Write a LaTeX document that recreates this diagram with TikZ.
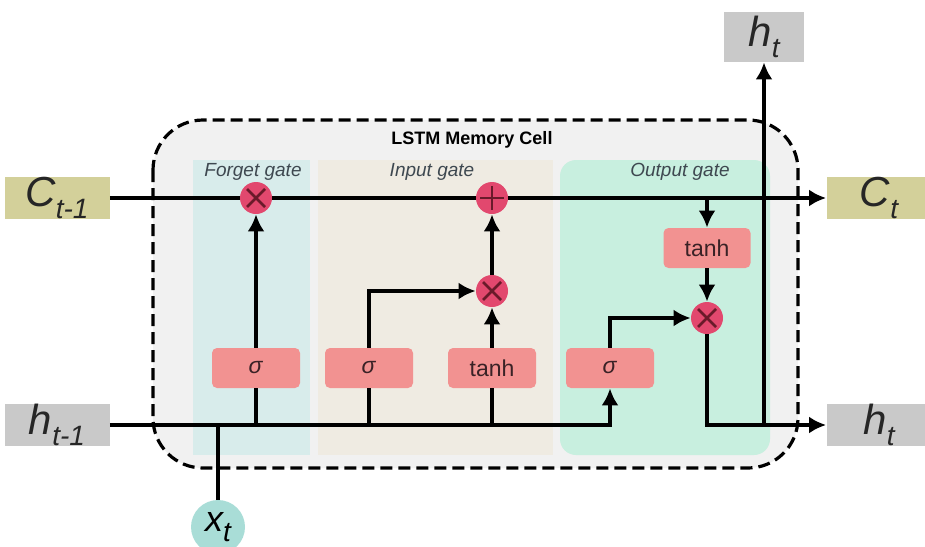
\documentclass[tikz,border=0pt]{standalone}
\usepackage{fontspec}
\setmainfont{Liberation Sans}
\usetikzlibrary{positioning,arrows.meta}
\definecolor{cellgray}{HTML}{F1F1F1}
\definecolor{forgetbg}{HTML}{D8ECEB}
\definecolor{inputbg}{HTML}{EFEBE2}
\definecolor{outputbg}{HTML}{C8EFDF}
\definecolor{actred}{HTML}{F29291}
\definecolor{oppink}{HTML}{E2486E}
\definecolor{crossdark}{HTML}{6A1A2A}
\definecolor{acttext}{HTML}{3A2226}
\definecolor{cstate}{HTML}{D3D09A}
\definecolor{hstate}{HTML}{C9C9C9}
\definecolor{xinput}{HTML}{A9DDD7}
\definecolor{gatetext}{HTML}{3E4850}
\newcommand{\statelbl}[2]{\textit{#1\raisebox{-0.5ex}{\fontsize{14}{14}\selectfont #2}}}
\tikzset{>={Latex[length=8.5pt,width=8.5pt]}}
\tikzset{
  wire/.style={line width=2.4pt},
  flow/.style={wire,->},
  actbox/.style={rectangle,rounded corners=2.5pt,fill=actred,minimum width=44pt,
    minimum height=20pt,inner sep=0pt,text=acttext,font=\fontsize{11.5}{11.5}\selectfont},
  opcirc/.style={circle,fill=oppink,minimum size=16pt,inner sep=0pt},
  mult/.style={opcirc,path picture={
    \draw[line width=1.3pt,crossdark]
      ([shift={(-4.5pt,-4.5pt)}]path picture bounding box.center) --
      ([shift={(4.5pt,4.5pt)}]path picture bounding box.center)
      ([shift={(-4.5pt,4.5pt)}]path picture bounding box.center) --
      ([shift={(4.5pt,-4.5pt)}]path picture bounding box.center);}},
  addop/.style={opcirc,path picture={
    \draw[line width=1.3pt,crossdark]
      ([shift={(-6pt,0pt)}]path picture bounding box.center) --
      ([shift={(6pt,0pt)}]path picture bounding box.center)
      ([shift={(0pt,6pt)}]path picture bounding box.center) --
      ([shift={(0pt,-6pt)}]path picture bounding box.center);}},
  statebox/.style={rectangle,minimum width=52.5pt,minimum height=21pt,inner sep=0pt,
    text=black!85,font=\fontsize{21}{21}\selectfont},
  gatelabel/.style={font=\fontsize{9.5}{10}\selectfont\itshape,text=gatetext},
}

\begin{document}
\begin{tikzpicture}[x=0.5pt,y=-0.5pt]
  \useasboundingbox (0,0) rectangle (925,546);
  \fill[cellgray,rounded corners=25pt] (153,120) rectangle (798,468);
  \fill[forgetbg] (193,160) rectangle (310,455);
  \fill[inputbg] (318,160) rectangle (553,455);
  \fill[outputbg,rounded corners=8pt] (560,160) rectangle (770,455);
  \draw[line width=1.6pt,dash pattern=on 6pt off 3pt,rounded corners=25pt]
    (153,120) rectangle (798,468);
  \node[font=\fontsize{9}{10}\selectfont\bfseries] (title) at (472,140) {LSTM Memory Cell};
  \node[gatelabel] (fglabel) at (253,172) {Forget gate};
  \node[gatelabel] (iglabel) at (432,172) {Input gate};
  \node[gatelabel] (oglabel) at (680,172) {Output gate};

  \node[statebox,fill=cstate] (cprev) at (57,198) {\statelbl{C}{t-1}};
  \node[statebox,fill=cstate] (cnext) at (879,198) {\statelbl{C}{t}};
  \node[statebox,fill=hstate] (hprev) at (57,425) {\statelbl{h}{t-1}};
  \node[statebox,fill=hstate] (hnext) at (879,425) {\statelbl{h}{t}};
  \node[statebox,fill=hstate,minimum width=40pt,minimum height=25pt] (hup) at (764,37) {\statelbl{h}{t}};
  \node[circle,fill=xinput,minimum size=27pt,inner sep=0pt,font=\fontsize{18}{18}\selectfont]
    (xin) at (218,527) {\statelbl{x}{t}};

  \node[mult] (fgmult) at (256,198) {};
  \node[addop] (igplus) at (492,198) {};
  \node[mult] (igmult) at (492,291) {};
  \node[mult] (ogmult) at (707,318) {};

  \node[actbox] (fgsig) at (256,368) {\textit{σ}};
  \node[actbox] (igsig) at (369,368) {\textit{σ}};
  \node[actbox] (igtanh) at (492,368) {tanh};
  \node[actbox] (ogsig) at (610,368) {\textit{σ}};
  \node[actbox,minimum width=43.5pt] (ogtanh) at (707,248) {tanh};

  \coordinate (ctap) at (707,198);
  \coordinate (xtap) at (218,425);
  \coordinate (htap) at (hup.south |- hnext.west);

  \draw[wire] (cprev.east) -- (fgmult.west);
  \draw[wire] (fgmult.east) -- (igplus.west);
  \draw[flow] (igplus.east) -- (cnext.west);
  \draw[flow] (ctap) -- (ogtanh.north);
  \draw[flow] (ogtanh.south) -- (ogmult.north);

  \draw[flow] (hprev.east) -| (ogsig.south);
  \draw[wire] (xin.north) -- (xtap);
  \draw[wire] (fgsig.south) -- (fgsig.south |- xtap);
  \draw[wire] (igsig.south) -- (igsig.south |- xtap);
  \draw[wire] (igtanh.south) -- (igtanh.south |- xtap);

  \draw[flow] (fgsig.north) -- (fgmult.south);
  \draw[flow] (igsig.north) |- (igmult.west);
  \draw[flow] (igtanh.north) -- (igmult.south);
  \draw[flow] (igmult.north) -- (igplus.south);
  \draw[flow] (ogsig.north) |- (ogmult.west);
  \draw[flow] (ogmult.south) |- (hnext.west);
  \draw[flow] (htap) -- (hup.south);
\end{tikzpicture}
\end{document}
